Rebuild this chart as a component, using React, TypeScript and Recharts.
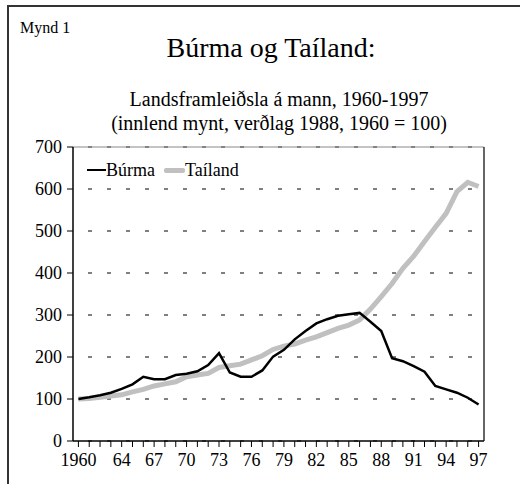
import { LineChart, Line, XAxis, YAxis, CartesianGrid, ReferenceLine } from "recharts";

const years = [
  1960, 1961, 1962, 1963, 1964, 1965, 1966, 1967, 1968, 1969,
  1970, 1971, 1972, 1973, 1974, 1975, 1976, 1977, 1978, 1979,
  1980, 1981, 1982, 1983, 1984, 1985, 1986, 1987, 1988, 1989,
  1990, 1991, 1992, 1993, 1994, 1995, 1996, 1997,
];

const burma = [
  100, 104, 109, 115, 124, 135, 153, 147, 147, 157,
  160, 166, 181, 209, 163, 153, 153, 168, 201, 217,
  242, 262, 280, 290, 298, 302, 305, 284, 262, 197,
  190, 178, 165, 131, 123, 115, 103, 87,
];

const thailand = [
  100, 101, 104, 107, 110, 117, 123, 131, 136, 141,
  153, 157, 161, 175, 179, 183, 193, 203, 218, 226,
  231, 240, 248, 258, 268, 276, 288, 314, 344, 375,
  411, 440, 475, 509, 542, 594, 616, 606,
];

const labelYears = [1960, 1964, 1967, 1970, 1973, 1976, 1979, 1982, 1985, 1988, 1991, 1994, 1997];
const yTicks = [0, 100, 200, 300, 400, 500, 600, 700];

const data = years.map((year, i) => ({ year, burma: burma[i], thailand: thailand[i] }));

const serif = '"Liberation Serif", "Times New Roman", serif';

function yearLabel(v: number) {
  if (!labelYears.includes(v)) return "";
  return v === 1960 ? "1960" : String(v).slice(2);
}

export default function App() {
  const tickStyle = { fill: "#000", fontSize: 18, fontFamily: serif };
  return (
    <div style={{ position: "absolute", left: 0, top: 0, width: 520, height: 484, background: "#fff", fontFamily: serif, overflow: "hidden" }}>
      {/* frame */}
      <div style={{ position: "absolute", left: 7, top: 5, width: 520, height: 490, borderTop: "2px solid #333", borderLeft: "2px solid #333" }} />

      <div style={{ position: "absolute", left: 20, top: 20, fontSize: 16, lineHeight: "16px" }}>Mynd 1</div>
      <div style={{ position: "absolute", left: 0, width: 542, top: 34, fontSize: 28, lineHeight: "28px", textAlign: "center" }}>
        Búrma og Taíland:
      </div>
      <div style={{ position: "absolute", left: 0, width: 558, top: 87, fontSize: 20, lineHeight: "24px", textAlign: "center" }}>
        Landsframleiðsla á mann, 1960-1997
        <br />
        (innlend mynt, verðlag 1988, 1960 = 100)
      </div>

      <div style={{ position: "absolute", left: 0, top: 0 }}>
        <LineChart width={520} height={484} data={data} margin={{ top: 147, right: 36, bottom: 13, left: 13 }}>
          <CartesianGrid vertical={false} stroke="#000" strokeDasharray="4 15" strokeDashoffset={-15} />
          <ReferenceLine y={700} stroke="#888" />
          <ReferenceLine x={1997.5} stroke="#333" strokeWidth={1.5} />
          <XAxis
            dataKey="year"
            type="number"
            domain={[1959.5, 1997.5]}
            ticks={years}
            interval={0}
            tickFormatter={yearLabel}
            height={30}
            tickSize={6}
            tickMargin={6}
            tick={tickStyle}
            axisLine={{ stroke: "#000", strokeWidth: 1.5 }}
            tickLine={{ stroke: "#000" }}
          />
          <YAxis
            domain={[0, 700]}
            ticks={yTicks}
            interval={0}
            width={60}
            tickSize={6}
            tickMargin={5}
            tick={tickStyle}
            axisLine={{ stroke: "#000", strokeWidth: 1.5 }}
            tickLine={{ stroke: "#000" }}
          />
          <Line dataKey="thailand" stroke="#c0c0c0" strokeWidth={5} dot={false} isAnimationActive={false} />
          <Line dataKey="burma" stroke="#000" strokeWidth={2.5} dot={false} isAnimationActive={false} />
        </LineChart>
      </div>

      {/* legend */}
      <div style={{ position: "absolute", left: 87, top: 160, fontSize: 18, lineHeight: "20px", display: "flex", alignItems: "center" }}>
        <span style={{ display: "inline-block", width: 19, height: 2.5, background: "#000" }} />
        <span style={{ marginRight: 9 }}>Búrma</span>
        <span style={{ display: "inline-block", width: 21, height: 5, background: "#c0c0c0", borderRadius: 2 }} />
        <span>Taíland</span>
      </div>
    </div>
  );
}
